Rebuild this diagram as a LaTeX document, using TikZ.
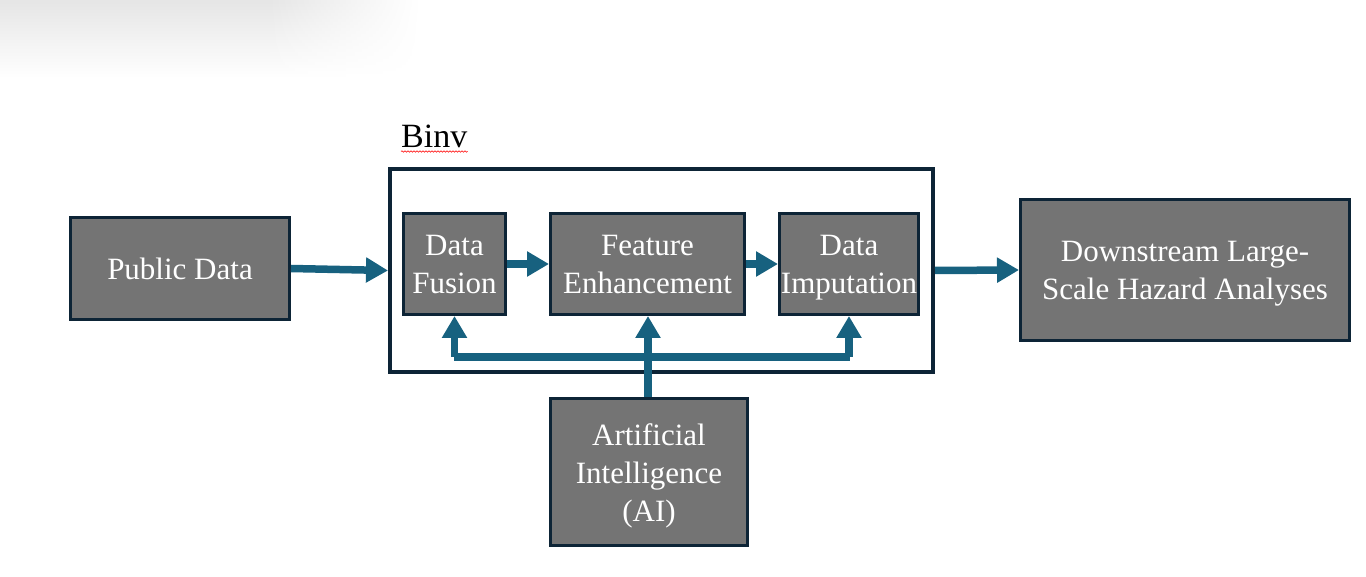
\documentclass[tikz,border=0pt]{standalone}
\usepackage{fontspec}
\setmainfont{Liberation Serif}
\usetikzlibrary{arrows.meta,fadings,decorations.pathmorphing}
\definecolor{boxfill}{HTML}{747474}
\definecolor{boxline}{HTML}{0D2436}
\definecolor{arrowc}{HTML}{17617F}
\tikzfading[name=fadeR, left color=transparent!0, right color=transparent!100]
\tikzset{
  blk/.style={draw=boxline, fill=boxfill, line width=3pt, inner sep=0pt,
    text=white, align=center, font=\rmfamily\fontsize{31}{38}\selectfont,
    text height=30pt, text depth=8pt},
  two/.style={text height=68pt},
  three/.style={text height=106pt},
  frm/.style={draw=boxline, line width=4pt, inner sep=0pt},
  arr/.style={draw=arrowc, line width=7.5pt, line join=miter,
    -{Triangle[length=22pt,width=24pt]}},
  bar/.style={draw=arrowc, line width=7.5pt, line join=miter}
}
\begin{document}
\begin{tikzpicture}[x=1pt,y=-1pt]
\useasboundingbox (0,0) rectangle (1366,577);
% screenshot shadow at top left
\shade[top color=black!10, bottom color=white] (0,0) rectangle (270,78);
\shade[top color=black!10, bottom color=white, path fading=fadeR] (270,0) rectangle (420,78);

% frame and label
\node[frm, minimum width=543pt, minimum height=203pt] (frame) at (661.5,270.5) {};
\node[anchor=base west, inner sep=0pt, font=\rmfamily\fontsize{34}{40}\selectfont] (binv) at (401,148) {Binv};
\draw[red, line width=0.6pt, decorate, decoration={snake, amplitude=0.7pt, segment length=3pt}]
  ([yshift=-3.5pt]binv.base west) -- ([yshift=-3.5pt]binv.base east);

% boxes
\node[blk, minimum width=219pt, minimum height=102pt] (pub) at (180,268.5) {Public Data};
\node[blk, two, minimum width=102pt, minimum height=101pt] (fus) at (454.5,264) {Data\\Fusion};
\node[blk, two, minimum width=194pt, minimum height=101pt] (feat) at (647.5,264) {Feature\\Enhancement};
\node[blk, two, minimum width=139pt, minimum height=101pt] (imp) at (849,264) {Data\\Imputation};
\node[blk, two, minimum width=329pt, minimum height=141pt] (down) at (1185,270) {Downstream Large-\\Scale Hazard Analyses};
\node[blk, three, minimum width=197pt, minimum height=147pt] (ai) at (649,472) {Artificial\\Intelligence\\(AI)};

% connectors
\draw[arr] (pub.east) -- (frame.west);
\draw[arr] (fus.east) -- (feat.west);
\draw[arr] (feat.east) -- (imp.west);
\draw[arr] (frame.east) -- (down.west);
\coordinate (j) at (648,357);
\draw[bar] ([xshift=-0.5pt]fus.south |- j) -- ([xshift=0.5pt]imp.south |- j);
\draw[arr] (fus.south |- j) -- (fus.south);
\draw[arr] (imp.south |- j) -- (imp.south);
\draw[arr] (j |- ai.north) -- (j |- feat.south);
\end{tikzpicture}
\end{document}
